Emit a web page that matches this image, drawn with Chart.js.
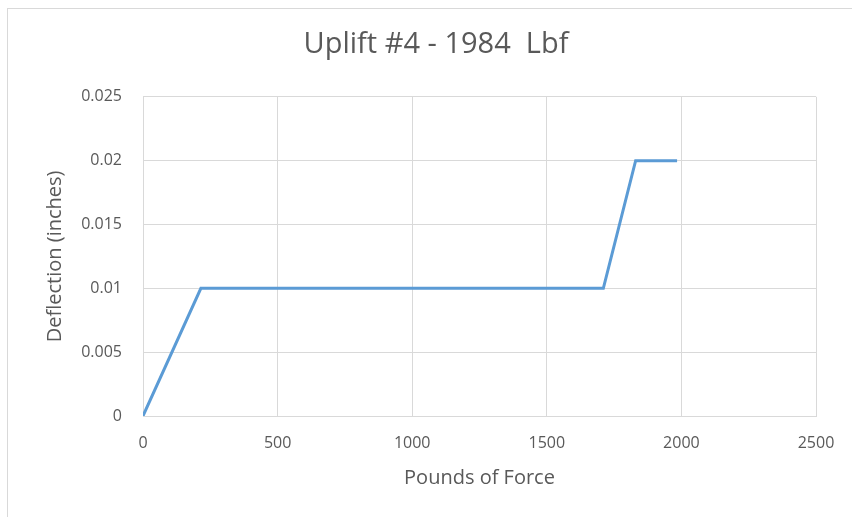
<!DOCTYPE html>
<html>
<head>
<meta charset="utf-8">
<script src="https://cdn.jsdelivr.net/npm/chart.js@4"></script>
<style>
  html, body { margin: 0; padding: 0; background: #fff; overflow: hidden; }
  #frame {
    position: absolute; left: 7px; top: 8px;
    width: 858px; height: 520px;
    border: 1px solid #d9d9d9;
    box-sizing: border-box;
  }
  #wrap { position: absolute; left: 8px; top: 9px; width: 856px; height: 508px; }
</style>
</head>
<body>
<div id="frame"></div>
<div id="wrap"><canvas id="myChart"></canvas></div>
<script>
const forceValues = [0, 215, 1710, 1830, 1984];
const deflectionValues = [0, 0.01, 0.01, 0.02, 0.02];
const xTicks = [0, 500, 1000, 1500, 2000, 2500];
const yTicks = [0, 0.005, 0.01, 0.015, 0.02, 0.025];

const textColor = "#595959";
const gridColor = "#d9d9d9";
const fontFamily = "'Open Sans', 'Liberation Sans', sans-serif";

const createChart = () => {
  let ctx = document.getElementById("myChart").getContext("2d");

  return new Chart(ctx, {
    type: "line",
    data: {
      datasets: [
        {
          label: "Uplift #4",
          data: forceValues.map((x, i) => ({ x, y: deflectionValues[i] })),
          borderColor: "#5b9bd5",
          borderWidth: 3,
          pointRadius: 0,
          fill: false,
          tension: 0
        }
      ]
    },
    options: {
      responsive: true,
      maintainAspectRatio: false,
      animation: false,
      layout: { padding: 0 },
      plugins: {
        legend: { display: false },
        tooltip: { enabled: false },
        title: {
          display: true,
          text: "Uplift #4 - 1984  Lbf",
          color: textColor,
          font: { family: fontFamily, size: 29, weight: "normal" },
          padding: { top: 18, bottom: 35 }
        }
      },
      scales: {
        x: {
          type: "linear",
          min: 0,
          max: 2500,
          afterBuildTicks: (axis) => {
            axis.ticks = xTicks.map((v) => ({ value: v }));
          },
          afterFit: (axis) => {
            axis.height = 101;
          },
          grid: { color: gridColor, drawTicks: false },
          border: { color: gridColor },
          ticks: {
            color: textColor,
            padding: 18,
            font: { family: fontFamily, size: 16 },
            callback: function (value) {
              return String(value);
            }
          },
          title: {
            display: true,
            text: "Pounds of Force",
            color: textColor,
            font: { family: fontFamily, size: 20 },
            padding: { top: 27, bottom: 27 }
          }
        },
        y: {
          min: 0,
          max: 0.025,
          afterBuildTicks: (axis) => {
            axis.ticks = yTicks.map((v) => ({ value: v }));
          },
          afterFit: (axis) => {
            axis.width = 135;
          },
          grid: { color: gridColor, drawTicks: false },
          border: { color: gridColor },
          ticks: {
            color: textColor,
            padding: 21,
            font: { family: fontFamily, size: 16 },
            callback: function (value) {
              return String(value);
            }
          },
          title: {
            display: true,
            text: "Deflection (inches)",
            color: textColor,
            font: { family: fontFamily, size: 20 },
            padding: { top: 35, bottom: 0 }
          }
        },
        // empty right-hand spacer so the title centres on the whole frame
        spacer: {
          type: "linear",
          position: "right",
          display: true,
          grid: { display: false, drawTicks: false },
          border: { display: false },
          ticks: { display: false },
          afterFit: (axis) => {
            axis.width = 48;
          }
        }
      }
    }
  });
};

createChart();
</script>
</body>
</html>
